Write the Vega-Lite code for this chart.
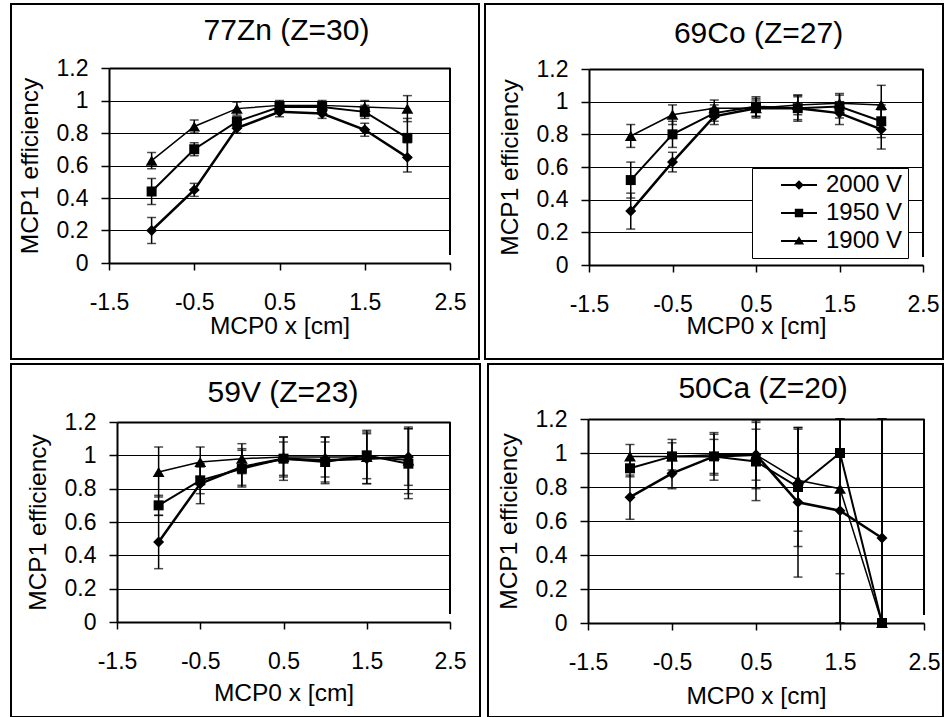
{
  "$schema": "https://vega.github.io/schema/vega-lite/v6.json",
  "background": "white",
  "padding": {"left": 10, "top": 3, "right": 0, "bottom": 0},
  "autosize": {"type": "pad"},
  "spacing": 3,
  "resolve": {"scale": {"x": "independent", "y": "independent", "shape": "independent", "size": "independent", "strokeWidth": "independent"}, "legend": {"shape": "independent"}},
  "config": {
    "font": "Liberation Sans",
    "locale": {"number": {"decimal": ".", "thousands": ",", "grouping": [3], "currency": ["$", ""], "minus": "-"}},
    "view": {"stroke": "black", "strokeWidth": 2},
    "axis": {"labelFont": "Liberation Sans", "titleFont": "Liberation Sans", "labelFontSize": 23, "titleFontSize": 24.5, "titleFontWeight": "normal", "labelColor": "black", "titleColor": "black", "domainColor": "black", "domainWidth": 2, "tickColor": "black", "tickWidth": 1.5, "gridColor": "black", "labelFlush": false, "labelOverlap": false},
    "title": {"font": "Liberation Sans", "fontSize": 30, "fontWeight": "normal", "color": "black", "anchor": "middle", "frame": "group", "baseline": "alphabetic"}
  },
  "datasets": {
    "zn": [
      {"series": "2000 V", "x": -1, "eff": 0.20, "err": 0.08},
      {"series": "2000 V", "x": -0.5, "eff": 0.45, "err": 0.04},
      {"series": "2000 V", "x": 0, "eff": 0.83, "err": 0.03},
      {"series": "2000 V", "x": 0.5, "eff": 0.93, "err": 0.03},
      {"series": "2000 V", "x": 1, "eff": 0.92, "err": 0.03},
      {"series": "2000 V", "x": 1.5, "eff": 0.82, "err": 0.04},
      {"series": "2000 V", "x": 2, "eff": 0.65, "err": 0.09},
      {"series": "1950 V", "x": -1, "eff": 0.44, "err": 0.08},
      {"series": "1950 V", "x": -0.5, "eff": 0.70, "err": 0.04},
      {"series": "1950 V", "x": 0, "eff": 0.87, "err": 0.03},
      {"series": "1950 V", "x": 0.5, "eff": 0.96, "err": 0.03},
      {"series": "1950 V", "x": 1, "eff": 0.96, "err": 0.03},
      {"series": "1950 V", "x": 1.5, "eff": 0.93, "err": 0.04},
      {"series": "1950 V", "x": 2, "eff": 0.77, "err": 0.12},
      {"series": "1900 V", "x": -1, "eff": 0.63, "err": 0.05},
      {"series": "1900 V", "x": -0.5, "eff": 0.84, "err": 0.04},
      {"series": "1900 V", "x": 0, "eff": 0.95, "err": 0.04},
      {"series": "1900 V", "x": 0.5, "eff": 0.97, "err": 0.03},
      {"series": "1900 V", "x": 1, "eff": 0.97, "err": 0.03},
      {"series": "1900 V", "x": 1.5, "eff": 0.96, "err": 0.04},
      {"series": "1900 V", "x": 2, "eff": 0.95, "err": 0.08}
    ],
    "co": [
      {"series": "2000 V", "x": -1, "eff": 0.33, "err": 0.11},
      {"series": "2000 V", "x": -0.5, "eff": 0.63, "err": 0.06},
      {"series": "2000 V", "x": 0, "eff": 0.91, "err": 0.05},
      {"series": "2000 V", "x": 0.5, "eff": 0.96, "err": 0.06},
      {"series": "2000 V", "x": 1, "eff": 0.96, "err": 0.08},
      {"series": "2000 V", "x": 1.5, "eff": 0.93, "err": 0.07},
      {"series": "2000 V", "x": 2, "eff": 0.83, "err": 0.12},
      {"series": "1950 V", "x": -1, "eff": 0.52, "err": 0.11},
      {"series": "1950 V", "x": -0.5, "eff": 0.80, "err": 0.08},
      {"series": "1950 V", "x": 0, "eff": 0.93, "err": 0.05},
      {"series": "1950 V", "x": 0.5, "eff": 0.97, "err": 0.06},
      {"series": "1950 V", "x": 1, "eff": 0.96, "err": 0.07},
      {"series": "1950 V", "x": 1.5, "eff": 0.97, "err": 0.07},
      {"series": "1950 V", "x": 2, "eff": 0.88, "err": 0.10},
      {"series": "1900 V", "x": -1, "eff": 0.79, "err": 0.07},
      {"series": "1900 V", "x": -0.5, "eff": 0.92, "err": 0.06},
      {"series": "1900 V", "x": 0, "eff": 0.96, "err": 0.05},
      {"series": "1900 V", "x": 0.5, "eff": 0.96, "err": 0.05},
      {"series": "1900 V", "x": 1, "eff": 0.98, "err": 0.06},
      {"series": "1900 V", "x": 1.5, "eff": 0.99, "err": 0.06},
      {"series": "1900 V", "x": 2, "eff": 0.98, "err": 0.12}
    ],
    "v": [
      {"series": "2000 V", "x": -1, "eff": 0.48, "err": 0.16},
      {"series": "2000 V", "x": -0.5, "eff": 0.83, "err": 0.12},
      {"series": "2000 V", "x": 0, "eff": 0.93, "err": 0.11},
      {"series": "2000 V", "x": 0.5, "eff": 0.98, "err": 0.13},
      {"series": "2000 V", "x": 1, "eff": 0.97, "err": 0.14},
      {"series": "2000 V", "x": 1.5, "eff": 0.98, "err": 0.15},
      {"series": "2000 V", "x": 2, "eff": 0.99, "err": 0.17},
      {"series": "1950 V", "x": -1, "eff": 0.70, "err": 0.06},
      {"series": "1950 V", "x": -0.5, "eff": 0.85, "err": 0.08},
      {"series": "1950 V", "x": 0, "eff": 0.92, "err": 0.11},
      {"series": "1950 V", "x": 0.5, "eff": 0.98, "err": 0.10},
      {"series": "1950 V", "x": 1, "eff": 0.96, "err": 0.12},
      {"series": "1950 V", "x": 1.5, "eff": 1.00, "err": 0.14},
      {"series": "1950 V", "x": 2, "eff": 0.95, "err": 0.21},
      {"series": "1900 V", "x": -1, "eff": 0.90, "err": 0.15},
      {"series": "1900 V", "x": -0.5, "eff": 0.96, "err": 0.09},
      {"series": "1900 V", "x": 0, "eff": 0.98, "err": 0.09},
      {"series": "1900 V", "x": 0.5, "eff": 0.99, "err": 0.12},
      {"series": "1900 V", "x": 1, "eff": 0.99, "err": 0.12},
      {"series": "1900 V", "x": 1.5, "eff": 0.99, "err": 0.16},
      {"series": "1900 V", "x": 2, "eff": 0.97, "err": 0.20}
    ],
    "ca": [
      {"series": "2000 V", "x": -1, "eff": 0.74, "err": 0.13},
      {"series": "2000 V", "x": -0.5, "eff": 0.88, "err": 0.09},
      {"series": "2000 V", "x": 0, "eff": 0.98, "err": 0.14},
      {"series": "2000 V", "x": 0.5, "eff": 0.99, "err": 0.15},
      {"series": "2000 V", "x": 1, "eff": 0.71, "err": 0.44},
      {"series": "2000 V", "x": 1.5, "eff": 0.66, "err": 0.66},
      {"series": "2000 V", "x": 2, "eff": 0.50, "err": 0.70},
      {"series": "1950 V", "x": -1, "eff": 0.91, "err": 0.05},
      {"series": "1950 V", "x": -0.5, "eff": 0.98, "err": 0.10},
      {"series": "1950 V", "x": 0, "eff": 0.98, "err": 0.10},
      {"series": "1950 V", "x": 0.5, "eff": 0.95, "err": 0.23},
      {"series": "1950 V", "x": 1, "eff": 0.80, "err": 0.35},
      {"series": "1950 V", "x": 1.5, "eff": 1.00, "err": 1.00},
      {"series": "1950 V", "x": 2, "eff": 0.00, "err": 1.50},
      {"series": "1900 V", "x": -1, "eff": 0.98, "err": 0.07},
      {"series": "1900 V", "x": -0.5, "eff": 0.98, "err": 0.08},
      {"series": "1900 V", "x": 0, "eff": 0.99, "err": 0.12},
      {"series": "1900 V", "x": 0.5, "eff": 0.99, "err": 0.20},
      {"series": "1900 V", "x": 1, "eff": 0.84, "err": 0.30},
      {"series": "1900 V", "x": 1.5, "eff": 0.79, "err": 0.50},
      {"series": "1900 V", "x": 2, "eff": 0.00, "err": 1.50}
    ]
  },
  "vconcat": [
    {
      "bounds": "flush",
      "spacing": 6,
      "resolve": {"scale": {"x": "independent", "y": "independent", "shape": "independent", "size": "independent", "strokeWidth": "independent"}, "legend": {"shape": "independent"}},
      "hconcat": [
        {
          "width": 468, "height": 355,
          "data": {"name": "zn"},
          "title": {"text": "77Zn (Z=30)", "dx": 41.5, "offset": -42},
          "encoding": {
            "x": {"field": "x", "type": "quantitative", "scale": {"domain": [-1.5, 2.5], "range": [98, 439], "nice": false, "zero": false},
                  "axis": {"title": "MCP0 x [cm]", "offset": -96, "values": [-1.5, -0.5, 0.5, 1.5, 2.5], "format": ".2~g", "tickSize": 7, "labelPadding": 39, "labelBaseline": "alphabetic", "titleBaseline": "alphabetic", "titleY": 70, "grid": false}},
            "y": {"field": "eff", "type": "quantitative", "scale": {"domain": [0, 1.2], "range": [259, 64], "nice": false, "zero": false, "clamp": true},
                  "axis": {"title": "MCP1 efficiency", "offset": -98, "values": [0, 0.2, 0.4, 0.6, 0.8, 1, 1.2], "format": ".2~g", "tickSize": 8, "labelPadding": 13, "grid": true, "gridWidth": {"condition": {"test": "datum.value > 1.1", "value": 2}, "value": 1}, "titleAngle": 270, "titleBaseline": "alphabetic", "titleX": -72}}
          },
          "layer": [
            {"mark": {"type": "rule", "color": "black", "strokeWidth": 2}, "encoding": {"x": {"datum": 2.5}, "y": {"datum": 0.05}, "y2": {"datum": 1.2}}},
            {"mark": {"type": "errorbar", "color": "black", "thickness": 1.5, "ticks": {"size": 9, "color": "black"}}, "encoding": {"yError": {"field": "err"}}},
            {"mark": {"type": "line", "color": "black"},
             "encoding": {"detail": {"field": "series"}, "strokeWidth": {"field": "series", "type": "ordinal", "scale": {"domain": ["1900 V", "1950 V", "2000 V"], "range": [1.5, 2.5, 3]}, "legend": null}}},
            {"mark": {"type": "point", "filled": true, "color": "black", "opacity": 1},
             "encoding": {
              "shape": {"field": "series", "type": "nominal", "scale": {"domain": ["2000 V", "1950 V", "1900 V"], "range": ["diamond", "square", "triangle-up"]}, "legend": null},
              "size": {"field": "series", "type": "ordinal", "scale": {"domain": ["1950 V", "2000 V", "1900 V"], "range": [100, 140, 110]}, "legend": null}}}
          ]
        },
        {
          "width": 458, "height": 355,
          "data": {"name": "co"},
          "title": {"text": "69Co (Z=27)", "dx": 44.5, "offset": -45},
          "resolve": {"scale": {"shape": "independent"}},
          "encoding": {
            "x": {"field": "x", "type": "quantitative", "scale": {"domain": [-1.5, 2.5], "range": [104, 438], "nice": false, "zero": false},
                  "axis": {"title": "MCP0 x [cm]", "offset": -94, "values": [-1.5, -0.5, 0.5, 1.5, 2.5], "format": ".2~g", "tickSize": 7, "labelPadding": 39, "labelBaseline": "alphabetic", "titleBaseline": "alphabetic", "titleY": 68, "grid": false}},
            "y": {"field": "eff", "type": "quantitative", "scale": {"domain": [0, 1.2], "range": [261, 65], "nice": false, "zero": false, "clamp": true},
                  "axis": {"title": "MCP1 efficiency", "offset": -104, "values": [0, 0.2, 0.4, 0.6, 0.8, 1, 1.2], "format": ".2~g", "tickSize": 8, "labelPadding": 13, "grid": true, "gridWidth": {"condition": {"test": "datum.value > 1.1", "value": 2}, "value": 1}, "titleAngle": 270, "titleBaseline": "alphabetic", "titleX": -72}}
          },
          "layer": [
            {"mark": {"type": "rule", "color": "black", "strokeWidth": 2}, "encoding": {"x": {"datum": 2.5}, "y": {"datum": 0.05}, "y2": {"datum": 1.2}}},
            {"mark": {"type": "errorbar", "color": "black", "thickness": 1.5, "ticks": {"size": 9, "color": "black"}}, "encoding": {"yError": {"field": "err"}}},
            {"mark": {"type": "line", "color": "black"},
             "encoding": {"detail": {"field": "series"}, "strokeWidth": {"field": "series", "type": "ordinal", "scale": {"domain": ["1900 V", "1950 V", "2000 V"], "range": [1.5, 2.5, 3]}, "legend": null}}},
            {"mark": {"type": "point", "filled": true, "color": "black", "opacity": 1},
             "encoding": {
              "shape": {"field": "series", "type": "nominal", "scale": {"domain": ["2000 V", "1900 V", "1950 V"], "range": ["diamond", "triangle-up", "square"]}, "legend": null},
              "size": {"field": "series", "type": "ordinal", "scale": {"domain": ["1950 V", "2000 V", "1900 V"], "range": [100, 140, 110]}, "legend": null}}},
            {"mark": {"type": "point", "filled": true, "color": "black", "opacity": 0},
             "encoding": {
              "shape": {"field": "series", "type": "nominal",
                "scale": {"domain": ["2000 V", "1950 V", "1900 V"], "range": ["M-3,-0.17H3V0.17H-3ZM0,-0.8L0.8,0L0,0.8L-0.8,0Z", "M-3,-0.17H3V0.17H-3ZM-0.7,-0.7H0.7V0.7H-0.7Z", "M-3,-0.17H3V0.17H-3ZM0,-0.8L0.85,0.6H-0.85Z"]},
                "legend": {
                  "orient": "none", "legendX": 267, "legendY": 164, "title": null,
                  "strokeColor": "black", "fillColor": "white", "padding": 5,
                  "symbolSize": 144, "symbolOffset": 30, "labelOffset": 15, "rowPadding": 4,
                  "symbolOpacity": 1, "symbolFillColor": "black",
                  "labelFontSize": 24, "labelColor": "black", "labelFont": "Liberation Sans",
                  "labelExpr": "datum.label + '    '"
                }}}}
          ]
        }
      ]
    },
    {
      "bounds": "flush",
      "spacing": 8,
      "resolve": {"scale": {"x": "independent", "y": "independent", "shape": "independent", "size": "independent", "strokeWidth": "independent"}, "legend": {"shape": "independent"}},
      "hconcat": [
        {
          "width": 469, "height": 353,
          "data": {"name": "v"},
          "title": {"text": "59V (Z=23)", "dx": 37.5, "offset": -44},
          "encoding": {
            "x": {"field": "x", "type": "quantitative", "scale": {"domain": [-1.5, 2.5], "range": [106, 439], "nice": false, "zero": false},
                  "axis": {"title": "MCP0 x [cm]", "offset": -95, "values": [-1.5, -0.5, 0.5, 1.5, 2.5], "format": ".2~g", "tickSize": 7, "labelPadding": 39, "labelBaseline": "alphabetic", "titleBaseline": "alphabetic", "titleY": 78, "grid": false}},
            "y": {"field": "eff", "type": "quantitative", "scale": {"domain": [0, 1.2], "range": [258, 58], "nice": false, "zero": false, "clamp": true},
                  "axis": {"title": "MCP1 efficiency", "offset": -106, "values": [0, 0.2, 0.4, 0.6, 0.8, 1, 1.2], "format": ".2~g", "tickSize": 8, "labelPadding": 13, "grid": true, "gridWidth": {"condition": {"test": "datum.value > 1.1", "value": 2}, "value": 1}, "titleAngle": 270, "titleBaseline": "alphabetic", "titleX": -72}}
          },
          "layer": [
            {"mark": {"type": "rule", "color": "black", "strokeWidth": 2}, "encoding": {"x": {"datum": 2.5}, "y": {"datum": 0.05}, "y2": {"datum": 1.2}}},
            {"mark": {"type": "errorbar", "color": "black", "thickness": 1.5, "ticks": {"size": 9, "color": "black"}}, "encoding": {"yError": {"field": "err"}}},
            {"mark": {"type": "line", "color": "black"},
             "encoding": {"detail": {"field": "series"}, "strokeWidth": {"field": "series", "type": "ordinal", "scale": {"domain": ["1900 V", "1950 V", "2000 V"], "range": [1.5, 2.5, 3]}, "legend": null}}},
            {"mark": {"type": "point", "filled": true, "color": "black", "opacity": 1},
             "encoding": {
              "shape": {"field": "series", "type": "nominal", "scale": {"domain": ["2000 V", "1950 V", "1900 V"], "range": ["diamond", "square", "triangle-up"]}, "legend": null},
              "size": {"field": "series", "type": "ordinal", "scale": {"domain": ["1950 V", "2000 V", "1900 V"], "range": [100, 140, 110]}, "legend": null}}}
          ]
        },
        {
          "width": 455, "height": 353,
          "data": {"name": "ca"},
          "title": {"text": "50Ca (Z=20)", "dx": 47.5, "offset": -40},
          "encoding": {
            "x": {"field": "x", "type": "quantitative", "scale": {"domain": [-1.5, 2.5], "range": [100, 436], "nice": false, "zero": false},
                  "axis": {"title": "MCP0 x [cm]", "offset": -94, "values": [-1.5, -0.5, 0.5, 1.5, 2.5], "format": ".2~g", "tickSize": 7, "labelPadding": 39, "labelBaseline": "alphabetic", "titleBaseline": "alphabetic", "titleY": 80, "grid": false}},
            "y": {"field": "eff", "type": "quantitative", "scale": {"domain": [0, 1.2], "range": [259, 55], "nice": false, "zero": false, "clamp": true},
                  "axis": {"title": "MCP1 efficiency", "offset": -100, "values": [0, 0.2, 0.4, 0.6, 0.8, 1, 1.2], "format": ".2~g", "tickSize": 8, "labelPadding": 13, "grid": true, "gridWidth": {"condition": {"test": "datum.value > 1.1", "value": 2}, "value": 1}, "titleAngle": 270, "titleBaseline": "alphabetic", "titleX": -72}}
          },
          "layer": [
            {"mark": {"type": "rule", "color": "black", "strokeWidth": 2}, "encoding": {"x": {"datum": 2.5}, "y": {"datum": 0.05}, "y2": {"datum": 1.2}}},
            {"mark": {"type": "errorbar", "color": "black", "thickness": 1.5, "ticks": {"size": 9, "color": "black"}}, "encoding": {"yError": {"field": "err"}}},
            {"mark": {"type": "line", "color": "black"},
             "encoding": {"detail": {"field": "series"}, "strokeWidth": {"field": "series", "type": "ordinal", "scale": {"domain": ["1900 V", "1950 V", "2000 V"], "range": [1.5, 2.5, 3]}, "legend": null}}},
            {"mark": {"type": "point", "filled": true, "color": "black", "opacity": 1},
             "encoding": {
              "shape": {"field": "series", "type": "nominal", "scale": {"domain": ["2000 V", "1950 V", "1900 V"], "range": ["diamond", "square", "triangle-up"]}, "legend": null},
              "size": {"field": "series", "type": "ordinal", "scale": {"domain": ["1950 V", "2000 V", "1900 V"], "range": [100, 140, 110]}, "legend": null}}}
          ]
        }
      ]
    }
  ]
}
